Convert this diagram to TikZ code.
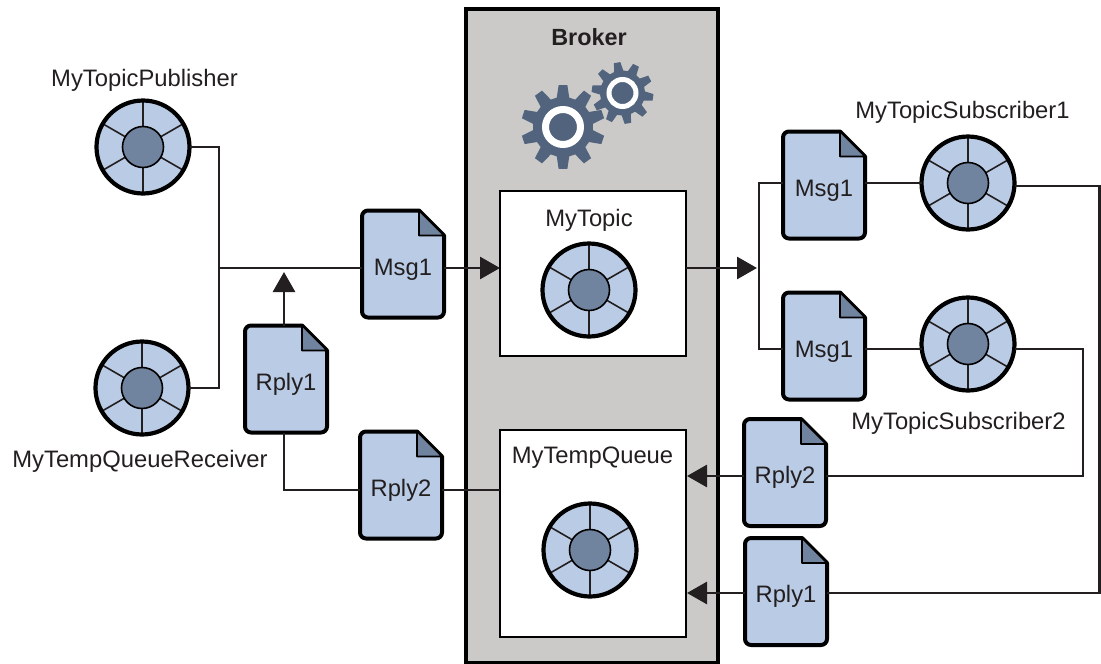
\documentclass[tikz,border=0pt]{standalone}
\usepackage{fontspec}
\setmainfont{Liberation Sans}
\usetikzlibrary{arrows.meta}
\usetikzlibrary{positioning}
\definecolor{sheetblue}{HTML}{B9CBE5}
\definecolor{coreblue}{HTML}{71849F}
\definecolor{gearblue}{HTML}{52647D}
\definecolor{brokergray}{HTML}{CCCAC9}
\definecolor{inkblack}{HTML}{231F20}
\makeatletter
\pgfdeclareshape{sheet}{
    \inheritsavedanchors[from=rectangle]
    \inheritanchorborder[from=rectangle]
    \inheritanchor[from=rectangle]{center}
    \inheritanchor[from=rectangle]{north}
    \inheritanchor[from=rectangle]{south}
    \inheritanchor[from=rectangle]{east}
    \inheritanchor[from=rectangle]{west}
    \backgroundpath{
        \southwest \pgf@xa=\pgf@x \pgf@ya=\pgf@y
        \northeast \pgf@xb=\pgf@x \pgf@yb=\pgf@y
        \pgfsetcornersarced{\pgfpoint{6pt}{6pt}}
        \pgfpathmoveto{\pgfpoint{\pgf@xa}{\pgf@ya+20pt}}
        \pgfpathlineto{\pgfpoint{\pgf@xa}{\pgf@yb}}
        \pgfsetcornersarced{\pgfpointorigin}
        \pgfpathlineto{\pgfpoint{\pgf@xb-25pt}{\pgf@yb}}
        \pgfpathlineto{\pgfpoint{\pgf@xb}{\pgf@yb-25pt}}
        \pgfsetcornersarced{\pgfpoint{6pt}{6pt}}
        \pgfpathlineto{\pgfpoint{\pgf@xb}{\pgf@ya}}
        \pgfpathlineto{\pgfpoint{\pgf@xa}{\pgf@ya}}
        \pgfpathlineto{\pgfpoint{\pgf@xa}{\pgf@ya+20pt}}
        \pgfpathclose
    }
    \beforebackgroundpath{
        \southwest \pgf@xa=\pgf@x \pgf@ya=\pgf@y
        \northeast \pgf@xb=\pgf@x \pgf@yb=\pgf@y
        \pgfsetlinewidth{1.6pt}
        \pgfsetcornersarced{\pgfpointorigin}
        \pgfsetfillcolor{coreblue}
        \pgfpathmoveto{\pgfpoint{\pgf@xb-25pt}{\pgf@yb}}
        \pgfpathlineto{\pgfpoint{\pgf@xb-25pt}{\pgf@yb-25pt}}
        \pgfpathlineto{\pgfpoint{\pgf@xb}{\pgf@yb-25pt}}
        \pgfpathclose
        \pgfusepath{fill,stroke}
    }
}
\makeatother
\tikzset{>={Triangle[length=20pt,width=22pt]}, x=1pt, y=-1pt, font=\fontsize{23.8}{23.8}\selectfont, text=inkblack}
\tikzstyle{link} = [draw=inkblack, line width=2.8pt]
\tikzstyle{label} = [anchor=base, inner sep=0pt]
\tikzstyle{broker} = [draw=black, fill=brokergray, line width=4.5pt, rectangle, anchor=north west, minimum width=252pt, minimum height=654pt, inner sep=0pt, outer sep=0pt]
\tikzstyle{dest} = [draw=black, fill=white, line width=2.6pt, rectangle, anchor=north west, minimum width=186pt, inner sep=0pt, outer sep=0pt]
\tikzstyle{msg} = [sheet, draw=black, fill=sheetblue, line width=4pt, line join=round, minimum width=82pt, minimum height=107pt, inner sep=0pt, outer sep=0pt, text height=27pt, text depth=5pt]
\tikzstyle{wheel} = [draw=black, fill=sheetblue, line width=4.2pt, circle, minimum size=93pt, inner sep=0pt, outer sep=0pt, path picture={
    \foreach \a in {30,90,...,330}
        \draw [inkblack, line width=1.6pt] (path picture bounding box.center) -- ++(\a:-50pt);
    \draw [black, fill=coreblue, line width=1.6pt] (path picture bounding box.center) circle [radius=20.5pt];}]
% one gear: centre, tip radius, root radius, ring outer, ring inner, turn
\newcommand{\gear}[6]{
    \fill [gearblue] (#1) ++(#6-12:#3pt) \foreach \t in {0,36,...,324} {
        -- ([shift={(#1)}]#6+\t-12:#3pt) -- ([shift={(#1)}]#6+\t-6:#2pt) -- ([shift={(#1)}]#6+\t+6:#2pt) -- ([shift={(#1)}]#6+\t+12:#3pt)
    } -- cycle;
    \draw [white, line width=#4pt-#5pt] (#1) circle [radius=#4pt/2+#5pt/2];
}
\begin{document}
\begin{tikzpicture}
    \useasboundingbox (0,0) rectangle (1101,664);

    \node [broker] (broker) at (466,9) {};
    \node [label, font=\fontsize{23.4}{23.4}\selectfont\bfseries] (brokerlabel) at (589,45) {Broker};
    \gear{563,127}{42}{30}{21}{14}{90}
    \gear{622.5,93}{31}{22.5}{16}{11}{100}

    \node [dest, minimum height=165pt] (mytopic) at (500,191) {};
    \node [label] (mytopiclabel) at (589,226) {MyTopic};
    \node [dest, minimum height=207pt] (tempqueue) at (500,430) {};
    \node [label] (tempqueuelabel) at (592.5,463) {MyTempQueue};
    \node [wheel] (topicwheel) at (589,290) {};
    \node [wheel] (queuewheel) at (590,550) {};

    \node [wheel] (publisher) at (143,147) {};
    \node [label] (publisherlabel) at (144.5,86) {MyTopicPublisher};
    \node [wheel] (receiver) at (142,388) {};
    \node [label] (receiverlabel) at (140,467) {MyTempQueueReceiver};
    \node [wheel] (sub1) at (968,183) {};
    \node [label] (sub1label) at (962.5,118) {MyTopicSubscriber1};
    \node [wheel] (sub2) at (968,344) {};
    \node [label] (sub2label) at (958.5,429) {MyTopicSubscriber2};

    \node [msg] (msg) at (403,264) {Msg1};
    \node [msg] (rply1) at (286,379) {Rply1};
    \node [msg] (rply2) at (401,485) {Rply2};
    \node [msg] (msg1) at (824,185) {Msg1};
    \node [msg] (msg2) at (824,346) {Msg1};
    \node [msg] (rply2b) at (785,472.5) {Rply2};
    \node [msg] (rply1b) at (786,591.5) {Rply1};

    \coordinate (join) at (219,268);
    \coordinate (rplytip) at (284,272);
    \coordinate (rplyrow) at (284,490);
    \coordinate (forktip) at (757,268);
    \coordinate (forktop) at (759,183);
    \coordinate (forkbottom) at (759,349);
    \coordinate (edge1) at (1099.5,186);
    \coordinate (edge2) at (1083,349);
    \coordinate (row2) at (687,476);
    \coordinate (row1) at (687,593);

    \draw [link] (publisher.east) -| (join) |- (receiver.east);
    \draw [link] (join) -- (msg.west |- join);
    \draw [link, ->] (msg.east |- join) -- (498,268 -| mytopic.west);
    \draw [link, ->] (rply1.north -| rplytip) -- (rplytip);
    \draw [link] (rply1.south -| rplyrow) -- (rplyrow) -- (rply2.west |- rplyrow);
    \draw [link] (rply2.east |- rplyrow) -- (tempqueue.west |- rplyrow);
    \draw [link, ->] (mytopic.east |- join) -- (forktip);
    \draw [link] (msg1.west |- forktop) -- (forktop) -- (forkbottom) -- (msg2.west |- forkbottom);
    \draw [link] (msg1.east |- forktop) -- (sub1.west |- forktop);
    \draw [link] (msg2.east |- forkbottom) -- (sub2.west |- forkbottom);
    \draw [link] (sub1.east |- edge1) -- (edge1) |- (rply1b.east |- row1);
    \draw [link] (sub2.east |- edge2) -- (edge2) |- (rply2b.east |- row2);
    \draw [link, ->] (rply2b.west |- row2) -- (row2);
    \draw [link, ->] (rply1b.west |- row1) -- (row1);
\end{tikzpicture}
\end{document}
